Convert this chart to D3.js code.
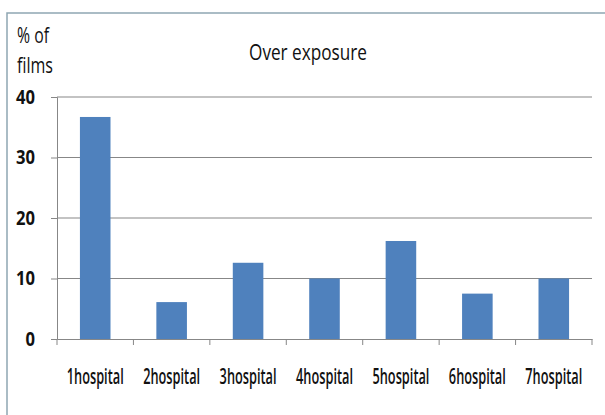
<!DOCTYPE html>
<html>
<head>
<meta charset="utf-8">
<script src="https://cdn.jsdelivr.net/npm/d3@7"></script>
<style>
  html, body { margin: 0; padding: 0; background: #fff; }
  svg { display: block; }
  text { font-family: "Open Sans", Lato, "Liberation Sans", sans-serif; fill: #111; }
</style>
</head>
<body>
<svg id="chart" width="605" height="415"></svg>
<script>
// Over-exposed films per hospital (% of films)
const categories = ["1hospital", "2hospital", "3hospital", "4hospital", "5hospital", "6hospital", "7hospital"];
const values = [36.7, 6.1, 12.6, 10.0, 16.2, 7.5, 10.0];
const yTicks = [0, 10, 20, 30, 40];
const title = "Over exposure";
const yTitle = ["% of", "films"];

const svg = d3.select("#chart");
const W = 605, H = 415;
const plot = { left: 57, right: 592, top: 97, bottom: 339 };

// Narrow a text element horizontally to a given width, keeping its anchor point.
function condense(sel, widthOf) {
  sel.each(function (d, i) {
    const t = d3.select(this);
    const natural = this.getComputedTextLength();
    const target = typeof widthOf === "function" ? widthOf(d, i) : widthOf;
    const sx = natural > 0 ? target / natural : 1;
    const tx = +t.attr("x") || 0, ty = +t.attr("y") || 0;
    t.attr("x", 0).attr("y", 0)
     .attr("transform", `translate(${tx},${ty}) scale(${sx},1)`);
  });
}

// outer chart frame (runs off the right and bottom edges)
svg.append("rect")
  .attr("x", 7).attr("y", 13)
  .attr("width", W + 10).attr("height", H + 10)
  .attr("fill", "#fff")
  .attr("stroke", "#8ea6b2")
  .attr("stroke-width", 1.5);

const x = d3.scaleBand()
  .domain(categories)
  .range([plot.left, plot.right])
  .paddingInner(0.6)
  .paddingOuter(0.3);

const y = d3.scaleLinear()
  .domain([0, 40])
  .range([plot.bottom, plot.top]);

// horizontal gridlines
svg.append("g")
  .selectAll("line")
  .data(yTicks.filter(d => d > 0))
  .join("line")
  .attr("x1", plot.left).attr("x2", plot.right)
  .attr("y1", d => y(d)).attr("y2", d => y(d))
  .attr("stroke", "#878787")
  .attr("stroke-width", 1.2);

// bars
svg.append("g")
  .selectAll("rect")
  .data(values)
  .join("rect")
  .attr("x", (d, i) => x(categories[i]))
  .attr("width", x.bandwidth())
  .attr("y", d => y(d))
  .attr("height", d => y(0) - y(d))
  .attr("fill", "#4f81bd");

// y axis
const yAxis = svg.append("g")
  .attr("transform", `translate(${plot.left},0)`)
  .call(d3.axisLeft(y).tickValues(yTicks).tickSize(6).tickPadding(16));
yAxis.attr("font-family", null);
yAxis.select(".domain").attr("stroke", "#878787");
yAxis.selectAll(".tick text")
  .attr("font-size", 20)
  .attr("font-weight", 700)
  .attr("fill", "#111")
  .call(condense, d => String(d).length * 9.5);
yAxis.selectAll(".tick line").attr("stroke", "#878787");

// x axis: labels at band centres, ticks at category boundaries
const xAxis = svg.append("g")
  .attr("transform", `translate(0,${plot.bottom})`)
  .call(d3.axisBottom(x).tickSize(0).tickPadding(29));
xAxis.attr("font-family", null);
xAxis.select(".domain").attr("stroke", "#878787");
xAxis.selectAll(".tick text")
  .attr("font-size", 22)
  .attr("font-weight", 600)
  .attr("fill", "#000")
  .call(condense, 57);

const bounds = d3.range(categories.length + 1).map(i => plot.left + i * x.step());
svg.append("g")
  .selectAll("line")
  .data(bounds)
  .join("line")
  .attr("x1", d => d).attr("x2", d => d)
  .attr("y1", plot.bottom).attr("y2", plot.bottom + 6)
  .attr("stroke", "#878787");

// chart title
svg.append("text")
  .attr("x", 308).attr("y", 60)
  .attr("text-anchor", "middle")
  .attr("font-size", 22)
  .attr("font-weight", 500)
  .attr("fill", "#000")
  .text(title)
  .call(condense, 118);

// y axis title (two lines)
svg.append("g")
  .selectAll("text")
  .data(yTitle)
  .join("text")
  .attr("x", 17)
  .attr("y", (d, i) => 43 + i * 30)
  .attr("font-size", 21)
  .attr("fill", "#333")
  .text(d => d)
  .call(condense, (d, i) => i === 0 ? 32 : 36);
</script>
</body>
</html>
